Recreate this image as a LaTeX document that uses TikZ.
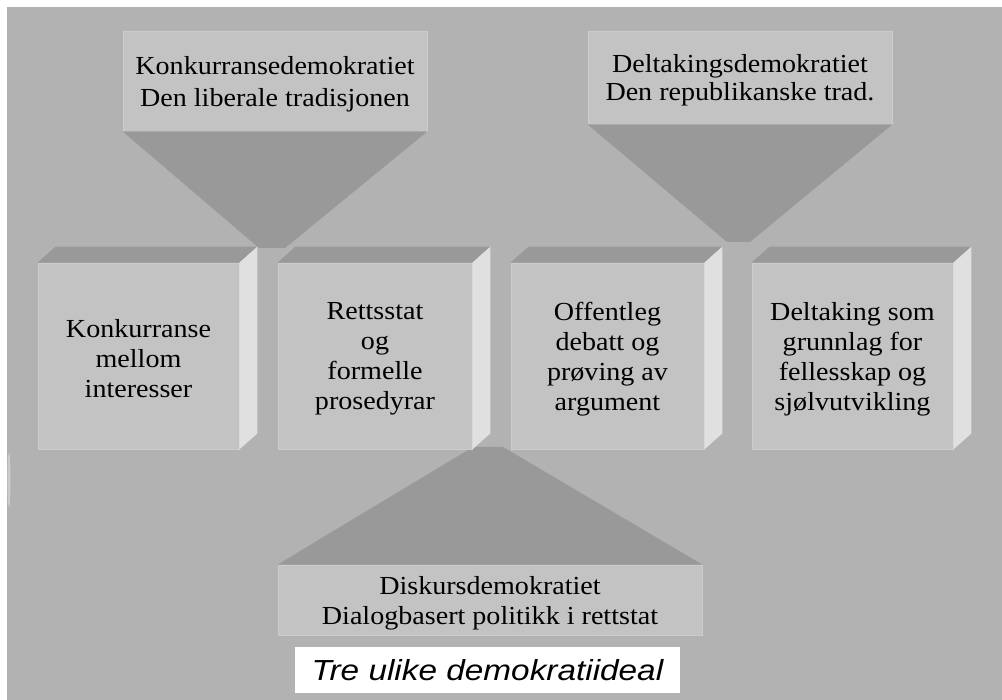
\documentclass[tikz,border=0pt]{standalone}
\usepackage{fontspec}
\setmainfont[FakeStretch=1.08]{Liberation Serif}
\newfontfamily\titlefont[FakeStretch=1.15]{Liberation Sans}
\usetikzlibrary{calc}
\definecolor{bgray}{HTML}{B2B2B2}
\definecolor{fgray}{HTML}{C3C3C3}
\definecolor{dgray}{HTML}{999999}
\definecolor{lgray}{HTML}{E0E0E0}
\definecolor{egray}{HTML}{CCCCCC}
\begin{document}
\begin{tikzpicture}[x=1pt,y=-1pt,
  frontbox/.style={fill=fgray, draw=egray, line width=0.8pt, inner sep=0pt},
  boxtext/.style={inner sep=0pt, align=center, text=black, font=\fontsize{26}{30}\selectfont},
  topface/.style={fill=dgray},
  sideface/.style={fill=lgray},
  funnel/.style={fill=dgray},
  titlebox/.style={fill=white, inner sep=0pt, font=\titlefont\itshape\fontsize{29}{34}\selectfont}
]
\useasboundingbox (0,0) rectangle (1002,700);
\fill[white] (0,0) rectangle (1002,700);
\fill[bgray] (7,7) rectangle (1002,700);
\fill[egray] (9,480) ellipse (1.5 and 27);

% header and bottom boxes (shapes)
\path node[frontbox, minimum width=304pt, minimum height=100pt] (ta) at (275,81) {};
\path node[frontbox, minimum width=304pt, minimum height=93pt] (tb) at (740,77.5) {};
\path node[frontbox, minimum width=424pt, minimum height=70pt] (bd) at (490,600) {};

\coordinate (fa1) at (285,248);
\coordinate (fa2) at (259,248);
\coordinate (fb1) at (750,242);
\coordinate (fb2) at (727,242);
\coordinate (fc1) at (473,447);
\coordinate (fc2) at (503,447);

% funnels
\fill[funnel] (ta.south west) -- (ta.south east) -- (fa1) -- (fa2) -- cycle;
\fill[funnel] (tb.south west) -- (tb.south east) -- (fb1) -- (fb2) -- cycle;
\fill[funnel] (fc1) -- (fc2) -- (bd.north east) -- (bd.north west) -- cycle;

% row boxes
\foreach \n/\cx/\w/\txt in {b1/138.5/201/{Konkurranse\\mellom\\interesser},
  b2/375/194/{Rettsstat\\og\\formelle\\prosedyrar},
  b3/607.5/193/{Offentleg\\debatt og\\prøving av\\argument},
  b4/852.5/201/{Deltaking som\\grunnlag for\\fellesskap og\\sjølvutvikling}}{
  \node[frontbox, minimum width=\w pt, minimum height=186pt] (\n) at (\cx,356) {};
  \fill[topface] (\n.north west) -- ++(18,-16) -- ($(\n.north east)+(18,-16)$) -- (\n.north east) -- cycle;
  \fill[sideface] (\n.north east) -- ++(18,-16) -- ($(\n.south east)+(18,-16)$) -- (\n.south east) -- cycle;
  \node[boxtext] (\n-t) at ($(\n)+(0,3)$) {\txt};
}

% texts of header and bottom boxes
\node[boxtext, font=\fontsize{26}{32}\selectfont] (ta-t) at ($(ta)+(0,3.5)$) {Konkurransedemokratiet\\Den liberale tradisjonen};
\node[boxtext, font=\fontsize{26}{28}\selectfont] (tb-t) at ($(tb)+(0,2.5)$) {Deltakingsdemokratiet\\Den republikanske trad.};
\node[boxtext] (bd-t) at ($(bd)+(0,3.5)$) {Diskursdemokratiet\\Dialogbasert politikk i rettstat};

\node[titlebox, minimum width=385pt, minimum height=46pt] (title) at (487.5,670) {Tre ulike demokratiideal};
\end{tikzpicture}
\end{document}
